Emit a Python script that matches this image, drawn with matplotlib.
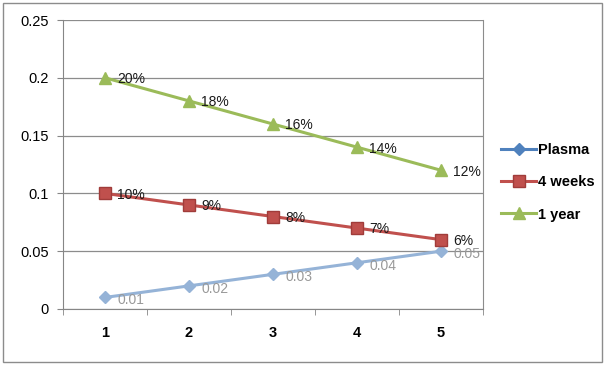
import matplotlib.pyplot as plt
from matplotlib.patches import Rectangle
from matplotlib.lines import Line2D

x = [1, 2, 3, 4, 5]
plasma = [0.01, 0.02, 0.03, 0.04, 0.05]
weeks4 = [0.10, 0.09, 0.08, 0.07, 0.06]
year1 = [0.20, 0.18, 0.16, 0.14, 0.12]
plasma_labels = ['0.01', '0.02', '0.03', '0.04', '0.05']
weeks4_labels = ['10%', '9%', '8%', '7%', '6%']
year1_labels = ['20%', '18%', '16%', '14%', '12%']
series_names = ['Plasma', '4 weeks', '1 year']

plt.rcParams['font.family'] = ['Liberation Sans', 'DejaVu Sans']

fig = plt.figure(figsize=(6.05, 3.66), dpi=100)
fig.patches.append(Rectangle((0.005, 0.01), 0.99, 0.982, transform=fig.transFigure,
                             fill=False, edgecolor='#8c8c8c', lw=1))
ax = fig.add_axes([63 / 605, 1 - 309 / 366, 420 / 605, 289 / 366])

ax.set_xlim(0.5, 5.5)
ax.set_ylim(0, 0.25)
ax.set_yticks([0, 0.05, 0.1, 0.15, 0.2, 0.25])
ax.set_yticklabels(['0', '0.05', '0.1', '0.15', '0.2', '0.25'])
ax.set_xticks(x)
ax.set_xticks([0.5, 1.5, 2.5, 3.5, 4.5, 5.5], minor=True)
ax.tick_params(axis='x', which='major', length=0, pad=12)
ax.tick_params(axis='x', which='minor', length=4, color='#868686')
ax.tick_params(axis='y', length=4, color='#868686', pad=6)
ax.tick_params(labelsize=10.5)
ax.set_xticklabels([str(v) for v in x], fontweight='bold')
ax.yaxis.grid(True, color='#8c8c8c', lw=0.9)
ax.set_axisbelow(True)
ax.spines['top'].set_visible(False)
ax.spines['right'].set_color('#8c8c8c')
ax.spines['left'].set_color('#868686')
ax.spines['bottom'].set_color('#868686')

ax.plot(x, plasma, color='#95B3D7', marker='D', ms=6, lw=2.2,
        markeredgecolor='#95B3D7')
ax.plot(x, weeks4, color='#C0504D', marker='s', ms=8, lw=2.2,
        markeredgecolor='#a03c3a')
ax.plot(x, year1, color='#9BBB59', marker='^', ms=8, lw=2.2,
        markeredgecolor='#9BBB59')

for xi, yi, t in zip(x, plasma, plasma_labels):
    ax.annotate(t, (xi, yi), xytext=(9, -2), textcoords='offset points',
                va='center', ha='left', fontsize=10, color='#999999')
for xi, yi, t in zip(x, weeks4, weeks4_labels):
    ax.annotate(t, (xi, yi), xytext=(9, -1), textcoords='offset points',
                va='center', ha='left', fontsize=10, color='#1a1a1a')
for xi, yi, t in zip(x, year1, year1_labels):
    ax.annotate(t, (xi, yi), xytext=(9, -1), textcoords='offset points',
                va='center', ha='left', fontsize=10, color='#1a1a1a')

handles = [
    Line2D([], [], color='#4F81BD', marker='D', ms=6, lw=2.2),
    Line2D([], [], color='#C0504D', marker='s', ms=8, lw=2.2, markeredgecolor='#a03c3a'),
    Line2D([], [], color='#9BBB59', marker='^', ms=8, lw=2.2),
]
leg = ax.legend(handles, series_names, loc='upper left',
                bbox_to_anchor=(488 / 605, 1 - 130 / 366),
                bbox_transform=fig.transFigure, frameon=False, fontsize=10.5,
                handlelength=2.4, handletextpad=0.15, labelspacing=1.25)
for t in leg.get_texts():
    t.set_fontweight('bold')

fig.savefig('out.png', dpi=100)
